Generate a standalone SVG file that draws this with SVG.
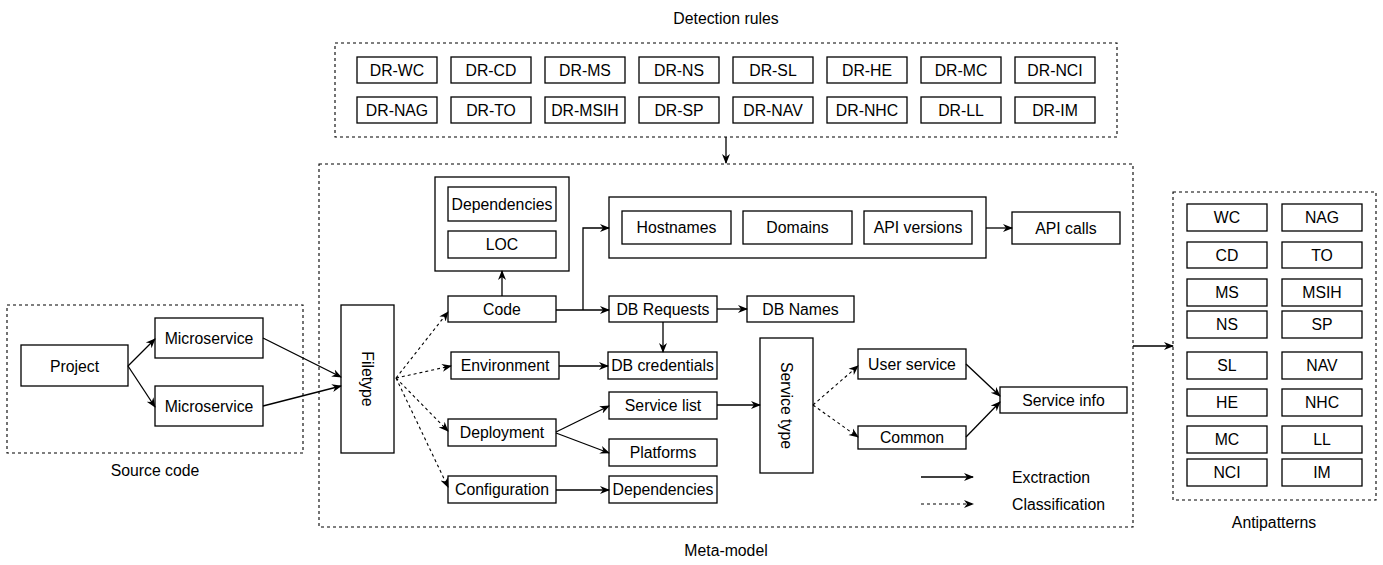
<svg xmlns="http://www.w3.org/2000/svg" width="1383" height="565" viewBox="0 0 1383 565">
<style>
text{font-family:"Liberation Sans",Arial,Helvetica,sans-serif;font-size:15.8px;fill:#000;text-anchor:middle;dominant-baseline:central}
.b{fill:#fff;stroke:#000;stroke-width:1.3}
.d{fill:none;stroke:#000;stroke-width:1.1;stroke-dasharray:3 3}
.c{fill:none;stroke:#000;stroke-width:1.3}
.cd{fill:none;stroke:#000;stroke-width:1.1;stroke-dasharray:3 3}
.l{text-anchor:start}
</style>
<defs>
<marker id="a" viewBox="0 0 10 10" refX="9" refY="5" markerWidth="10" markerHeight="10" markerUnits="userSpaceOnUse" orient="auto">
<path d="M0,1 L10,5 L0,9 L3,5 z" fill="#000"/>
</marker>
</defs>
<rect width="1383" height="565" fill="#fff"/>

<g id="containers">
<rect class="d" x="335" y="43" width="782" height="94"/>
<text x="726" y="18">Detection rules</text>
<rect class="d" x="319" y="164" width="814" height="363"/>
<text x="726" y="550">Meta-model</text>
<rect class="d" x="7" y="305" width="296" height="148"/>
<text x="155" y="470">Source code</text>
<rect class="d" x="1173" y="192" width="203" height="308"/>
<text x="1274" y="522">Antipatterns</text>
</g>

<g id="detection-rules">
<g id="dr-wc"><rect class="b" x="357" y="57" width="80" height="26"/><text x="397" y="70">DR-WC</text></g>
<g id="dr-cd"><rect class="b" x="451" y="57" width="80" height="26"/><text x="491" y="70">DR-CD</text></g>
<g id="dr-ms"><rect class="b" x="545" y="57" width="80" height="26"/><text x="585" y="70">DR-MS</text></g>
<g id="dr-ns"><rect class="b" x="639" y="57" width="80" height="26"/><text x="679" y="70">DR-NS</text></g>
<g id="dr-sl"><rect class="b" x="733" y="57" width="80" height="26"/><text x="773" y="70">DR-SL</text></g>
<g id="dr-he"><rect class="b" x="827" y="57" width="80" height="26"/><text x="867" y="70">DR-HE</text></g>
<g id="dr-mc"><rect class="b" x="921" y="57" width="80" height="26"/><text x="961" y="70">DR-MC</text></g>
<g id="dr-nci"><rect class="b" x="1015" y="57" width="80" height="26"/><text x="1055" y="70">DR-NCI</text></g>
<g id="dr-nag"><rect class="b" x="357" y="97" width="80" height="26"/><text x="397" y="110">DR-NAG</text></g>
<g id="dr-to"><rect class="b" x="451" y="97" width="80" height="26"/><text x="491" y="110">DR-TO</text></g>
<g id="dr-msih"><rect class="b" x="545" y="97" width="80" height="26"/><text x="585" y="110">DR-MSIH</text></g>
<g id="dr-sp"><rect class="b" x="639" y="97" width="80" height="26"/><text x="679" y="110">DR-SP</text></g>
<g id="dr-nav"><rect class="b" x="733" y="97" width="80" height="26"/><text x="773" y="110">DR-NAV</text></g>
<g id="dr-nhc"><rect class="b" x="827" y="97" width="80" height="26"/><text x="867" y="110">DR-NHC</text></g>
<g id="dr-ll"><rect class="b" x="921" y="97" width="80" height="26"/><text x="961" y="110">DR-LL</text></g>
<g id="dr-im"><rect class="b" x="1015" y="97" width="80" height="26"/><text x="1055" y="110">DR-IM</text></g>
</g>

<g id="project"><rect class="b" x="21" y="345" width="107" height="41"/><text x="74.5" y="366">Project</text></g>
<g id="microservice1"><rect class="b" x="155" y="318" width="108" height="40"/><text x="209" y="338">Microservice</text></g>
<g id="microservice2"><rect class="b" x="155" y="386" width="108" height="40"/><text x="209" y="406">Microservice</text></g>

<g id="filetype"><rect class="b" x="341" y="305" width="53" height="148"/><text transform="translate(367.5,379) rotate(90)">Filetype</text></g>

<g id="code-metrics"><rect class="b" x="435" y="177" width="134" height="94"/></g>
<g id="dependencies-code"><rect class="b" x="448" y="187" width="108" height="34"/><text x="502" y="204">Dependencies</text></g>
<g id="loc"><rect class="b" x="448" y="231" width="108" height="27"/><text x="502" y="244.5">LOC</text></g>

<g id="code"><rect class="b" x="448" y="296" width="108" height="26"/><text x="502" y="309">Code</text></g>
<g id="environment"><rect class="b" x="451" y="352" width="108" height="27"/><text x="505" y="365.5">Environment</text></g>
<g id="deployment"><rect class="b" x="448" y="419" width="108" height="27"/><text x="502" y="432.5">Deployment</text></g>
<g id="configuration"><rect class="b" x="448" y="476" width="108" height="27"/><text x="502" y="489.5">Configuration</text></g>

<g id="network-info"><rect class="b" x="609" y="197" width="377" height="61"/></g>
<g id="hostnames"><rect class="b" x="622" y="211" width="109" height="33"/><text x="676.5" y="227.5">Hostnames</text></g>
<g id="domains"><rect class="b" x="743" y="211" width="109" height="33"/><text x="797.5" y="227.5">Domains</text></g>
<g id="api-versions"><rect class="b" x="864" y="211" width="108" height="33"/><text x="918" y="227.5">API versions</text></g>
<g id="api-calls"><rect class="b" x="1012" y="212" width="108" height="32"/><text x="1066" y="228">API calls</text></g>

<g id="db-requests"><rect class="b" x="609" y="296" width="108" height="26"/><text x="663" y="309">DB Requests</text></g>
<g id="db-names"><rect class="b" x="747" y="296" width="107" height="26"/><text x="800.5" y="309">DB Names</text></g>
<g id="db-credentials"><rect class="b" x="608" y="352" width="109" height="27"/><text x="662.5" y="365.5">DB credentials</text></g>
<g id="service-list"><rect class="b" x="609" y="392" width="108" height="27"/><text x="663" y="405.5">Service list</text></g>
<g id="platforms"><rect class="b" x="609" y="439" width="108" height="27"/><text x="663" y="452.5">Platforms</text></g>
<g id="dependencies-config"><rect class="b" x="609" y="476" width="108" height="27"/><text x="663" y="489.5">Dependencies</text></g>

<g id="service-type"><rect class="b" x="760" y="338" width="53" height="135"/><text transform="translate(786.5,405.5) rotate(90)">Service type</text></g>
<g id="user-service"><rect class="b" x="858" y="349" width="108" height="30"/><text x="912" y="364">User service</text></g>
<g id="common"><rect class="b" x="858" y="426" width="108" height="23"/><text x="912" y="437.5">Common</text></g>
<g id="service-info"><rect class="b" x="1000" y="387" width="127" height="26"/><text x="1063.5" y="400">Service info</text></g>

<g id="legend">
<line class="c" x1="921" y1="477" x2="973" y2="477" marker-end="url(#a)"/>
<text class="l" x="1012" y="477">Exctraction</text>
<line class="cd" x1="921" y1="504" x2="973" y2="504" marker-end="url(#a)"/>
<text class="l" x="1012" y="504">Classification</text>
</g>

<g id="antipatterns">
<g id="ap-wc"><rect class="b" x="1187" y="204" width="80" height="27"/><text x="1227" y="217.5">WC</text></g>
<g id="ap-nag"><rect class="b" x="1282" y="204" width="80" height="27"/><text x="1322" y="217.5">NAG</text></g>
<g id="ap-cd"><rect class="b" x="1187" y="242" width="80" height="26"/><text x="1227" y="255">CD</text></g>
<g id="ap-to"><rect class="b" x="1282" y="242" width="80" height="26"/><text x="1322" y="255">TO</text></g>
<g id="ap-ms"><rect class="b" x="1187" y="279" width="80" height="27"/><text x="1227" y="292.5">MS</text></g>
<g id="ap-msih"><rect class="b" x="1282" y="279" width="80" height="27"/><text x="1322" y="292.5">MSIH</text></g>
<g id="ap-ns"><rect class="b" x="1187" y="311" width="80" height="27"/><text x="1227" y="324.5">NS</text></g>
<g id="ap-sp"><rect class="b" x="1282" y="311" width="80" height="27"/><text x="1322" y="324.5">SP</text></g>
<g id="ap-sl"><rect class="b" x="1187" y="352" width="80" height="27"/><text x="1227" y="365.5">SL</text></g>
<g id="ap-nav"><rect class="b" x="1282" y="352" width="80" height="27"/><text x="1322" y="365.5">NAV</text></g>
<g id="ap-he"><rect class="b" x="1187" y="389" width="80" height="27"/><text x="1227" y="402.5">HE</text></g>
<g id="ap-nhc"><rect class="b" x="1282" y="389" width="80" height="27"/><text x="1322" y="402.5">NHC</text></g>
<g id="ap-mc"><rect class="b" x="1187" y="426" width="80" height="27"/><text x="1227" y="439.5">MC</text></g>
<g id="ap-ll"><rect class="b" x="1282" y="426" width="80" height="27"/><text x="1322" y="439.5">LL</text></g>
<g id="ap-nci"><rect class="b" x="1187" y="459" width="80" height="27"/><text x="1227" y="472.5">NCI</text></g>
<g id="ap-im"><rect class="b" x="1282" y="459" width="80" height="27"/><text x="1322" y="472.5">IM</text></g>
</g>

<g id="connectors">
<line class="c" x1="726" y1="137" x2="726" y2="163" marker-end="url(#a)"/>
<line class="c" x1="128" y1="366" x2="155" y2="339" marker-end="url(#a)"/>
<line class="c" x1="128" y1="366" x2="155" y2="407" marker-end="url(#a)"/>
<line class="c" x1="263" y1="338" x2="341" y2="377" marker-end="url(#a)"/>
<line class="c" x1="263" y1="406" x2="341" y2="386" marker-end="url(#a)"/>
<line class="cd" x1="396" y1="378" x2="448" y2="312" marker-end="url(#a)"/>
<line class="cd" x1="396" y1="378" x2="451" y2="366" marker-end="url(#a)"/>
<line class="cd" x1="396" y1="378" x2="448" y2="431" marker-end="url(#a)"/>
<line class="cd" x1="396" y1="378" x2="448" y2="487" marker-end="url(#a)"/>
<line class="c" x1="502" y1="296" x2="502" y2="271" marker-end="url(#a)"/>
<line class="c" x1="556" y1="310" x2="609" y2="310" marker-end="url(#a)"/>
<path class="c" d="M583,310 V228 H609" marker-end="url(#a)"/>
<line class="c" x1="986" y1="228" x2="1012" y2="228" marker-end="url(#a)"/>
<line class="c" x1="717" y1="309" x2="747" y2="309" marker-end="url(#a)"/>
<line class="c" x1="663" y1="322" x2="663" y2="352" marker-end="url(#a)"/>
<line class="c" x1="559" y1="366" x2="608" y2="366" marker-end="url(#a)"/>
<line class="c" x1="556" y1="432" x2="609" y2="406" marker-end="url(#a)"/>
<line class="c" x1="556" y1="433" x2="609" y2="453" marker-end="url(#a)"/>
<line class="c" x1="556" y1="490" x2="609" y2="490" marker-end="url(#a)"/>
<line class="c" x1="717" y1="405" x2="760" y2="405" marker-end="url(#a)"/>
<line class="cd" x1="813" y1="405" x2="858" y2="366" marker-end="url(#a)"/>
<line class="cd" x1="813" y1="405" x2="858" y2="437" marker-end="url(#a)"/>
<line class="c" x1="966" y1="364" x2="1000" y2="396" marker-end="url(#a)"/>
<line class="c" x1="966" y1="437" x2="1000" y2="402" marker-end="url(#a)"/>
<line class="c" x1="1133" y1="346" x2="1173" y2="346" marker-end="url(#a)"/>
</g>
</svg>
